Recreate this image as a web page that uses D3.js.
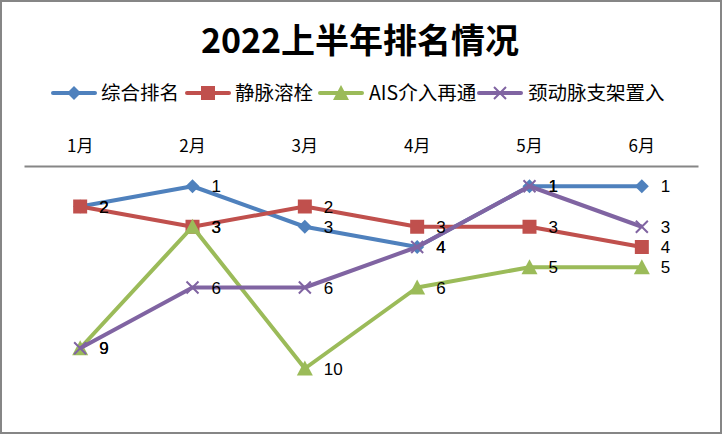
<!DOCTYPE html>
<html><head><meta charset="utf-8">
<script src="https://cdn.jsdelivr.net/npm/d3@7"></script>
<style>
html,body{margin:0;padding:0;background:#fff;}
svg{display:block;}
</style></head>
<body>
<svg id="chart" width="722" height="434"></svg>
<script>
const title = "2022上半年排名情况";
const months = ["1月","2月","3月","4月","5月","6月"];
const seriesNames = ["综合排名","静脉溶栓","AIS介入再通","颈动脉支架置入"];
const seriesColors = ["#4F81BD","#C0504D","#9BBB59","#8064A2"];
const seriesMarkers = ["diamond","square","triangle","cross"];
const composite = [2,1,3,4,1,1];
const thrombolysis = [2,3,2,3,3,4];
const aisIntervention = [9,3,10,6,5,5];
const carotidStent = [9,6,6,4,1,3];
const rankDomain = [0,10];

const seriesValues = [composite, thrombolysis, aisIntervention, carotidStent];
const series = seriesNames.map((n,i)=>({name:n,color:seriesColors[i],marker:seriesMarkers[i],values:seriesValues[i]}));

const svg = d3.select("#chart");
const W = 722, H = 434;
svg.append("rect").attr("x",1).attr("y",1).attr("width",W-2).attr("height",H-2)
  .attr("fill","#fff").attr("stroke","#868686").attr("stroke-width",2);

svg.append("text").attr("x",360).attr("y",53).attr("text-anchor","middle")
  .attr("font-family","'Noto Sans CJK SC', sans-serif").attr("font-size",34).attr("font-weight","bold")
  .attr("fill","#000").text(title);

const x = d3.scaleBand().domain(months).range([24,698]);
const y = d3.scaleLinear().domain(rankDomain).range([166,368.5]);
const cx = m => x(m)+x.bandwidth()/2;

// axis at top
const axis = d3.axisTop(x).tickSize(0).tickPadding(14);
const ag = svg.append("g").attr("transform",`translate(0,${y(0)})`).call(axis);
ag.select(".domain").attr("stroke","#868686").attr("stroke-width",2);
ag.selectAll("text").attr("font-family","'Noto Sans CJK SC', sans-serif").attr("font-size",17).attr("fill","#000");

function markerPath(type){
  if(type==="diamond") return "M0,-7L7,0L0,7L-7,0Z";
  if(type==="square") return "M-7,-7H7V7H-7Z";
  if(type==="triangle") return "M0,-8L8,7H-8Z";
  return "M-6,-6L6,6M-6,6L6,-6";
}
function drawMarker(g,type,color){
  const p = g.append("path").attr("d",markerPath(type));
  if(type==="cross") p.attr("fill","none").attr("stroke",color).attr("stroke-width",2);
  else p.attr("fill",color);
}

const line = d3.line().x((d,i)=>cx(months[i])).y(d=>y(d));
series.forEach(s=>{
  const g = svg.append("g");
  g.append("path").datum(s.values).attr("d",line).attr("fill","none")
    .attr("stroke",s.color).attr("stroke-width",4).attr("stroke-linejoin","round");
  s.values.forEach((v,i)=>{
    const mg = g.append("g").attr("transform",`translate(${cx(months[i])},${y(v)})`);
    drawMarker(mg,s.marker,s.color);
  });
});
// labels
series.forEach(s=>{
  s.values.forEach((v,i)=>{
    svg.append("text").attr("x",cx(months[i])+19).attr("y",y(v)).attr("dy","0.36em")
      .attr("font-family","'Liberation Sans', Arial, sans-serif").attr("font-size",17).attr("fill","#000").text(v);
  });
});

// legend
const legendItems = [
  {lx:53, tx:101},{lx:187, tx:235},{lx:320, tx:369},{lx:479, tx:528}
];
series.forEach((s,i)=>{
  const g = svg.append("g");
  const ly = 93;
  g.append("line").attr("x1",legendItems[i].lx).attr("x2",legendItems[i].lx+42).attr("y1",ly).attr("y2",ly)
    .attr("stroke",s.color).attr("stroke-width",4).attr("stroke-linecap","round");
  const mg = g.append("g").attr("transform",`translate(${legendItems[i].lx+21},${ly})`);
  drawMarker(mg,s.marker,s.color);
  g.append("text").attr("x",legendItems[i].tx).attr("y",ly).attr("dy","0.36em")
    .attr("font-family","'Noto Sans CJK SC', sans-serif").attr("font-size",19.5).attr("fill","#000").text(s.name);
});
</script>
</body></html>
